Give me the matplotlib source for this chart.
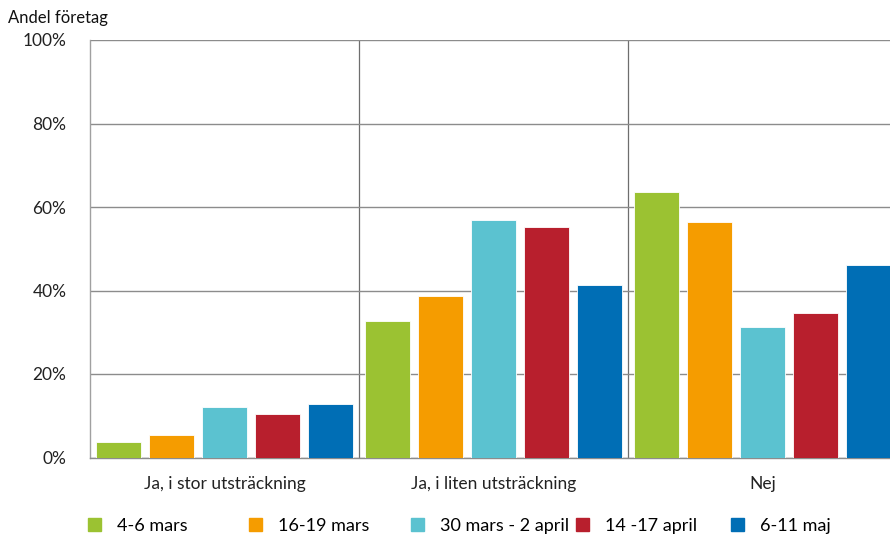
import matplotlib
matplotlib.use("Agg")
import matplotlib.pyplot as plt
from matplotlib.patches import Patch
import numpy as np

plt.rcParams['font.family'] = ['Lato', 'DejaVu Sans']

categories = ["Ja, i stor utsträckning", "Ja, i liten utsträckning", "Nej"]
series_names = ["4-6 mars", "16-19 mars", "30 mars - 2 april", "14 -17 april", "6-11 maj"]
v_4_6_mars = [3.8, 32.8, 63.6]
v_16_19_mars = [5.3, 38.7, 56.3]
v_30mars_2april = [12.1, 57.0, 31.2]
v_14_17_april = [10.3, 55.2, 34.6]
v_6_11_maj = [12.8, 41.3, 46.1]
series_values = [v_4_6_mars, v_16_19_mars, v_30mars_2april, v_14_17_april, v_6_11_maj]
colors = ["#9BC232", "#F59C00", "#5BC2D0", "#B81F2D", "#006EB5"]
yticks = [0, 20, 40, 60, 80, 100]
ytick_labels = ["0%", "20%", "40%", "60%", "80%", "100%"]

W, H = 890, 536
fig = plt.figure(figsize=(W / 100, H / 100), dpi=100)
left = 90 / W
right = 897 / W
bottom = 1 - 457.5 / H
top = 1 - 40 / H
ax = fig.add_axes([left, bottom, right - left, top - bottom])

x = np.arange(len(categories))
pitch = 0.197
width = 0.164
for i, (vals, col) in enumerate(zip(series_values, colors)):
    ax.bar(x + (i - 2) * pitch, vals, width=width, color=col,
           edgecolor="white", linewidth=0.6, zorder=3)

ax.set_xlim(-0.5, 2.5)
ax.set_ylim(0, 100)
ax.set_yticks(yticks)
ax.set_yticklabels(ytick_labels, fontsize=12.5, color="#222222")
ax.set_xticks(x)
ax.set_xticklabels(categories, fontsize=12.5, color="#222222")
ax.tick_params(axis='both', length=0)
ax.tick_params(axis='x', pad=13)
ax.tick_params(axis='y', pad=17)

ax.yaxis.grid(True, color="#8C8C8C", linewidth=1.0, zorder=0)
for b in [0.5, 1.5]:
    ax.axvline(b, color="#6E6E6E", linewidth=0.9, zorder=1)
for s in ["top", "right"]:
    ax.spines[s].set_visible(False)
ax.spines["left"].set_color("#A0A0A0")
ax.spines["bottom"].set_color("#8C8C8C")
ax.spines["left"].set_linewidth(1.0)
ax.spines["bottom"].set_linewidth(1.0)

fig.text(8 / W, 1 - 18 / H, "Andel företag", fontsize=12, color="#111111",
         ha="left", va="center")

legend_x = [88, 249, 411, 576, 731]
for name, col, lx in zip(series_names, colors, legend_x):
    fig.legend(handles=[Patch(facecolor=col, edgecolor=col)], labels=[name],
               loc="center left", bbox_to_anchor=(lx / W, 1 - 526 / H),
               frameon=False, fontsize=13, handlelength=0.7, handleheight=0.7,
               handletextpad=0.9, borderaxespad=0, borderpad=0)

fig.savefig("out.png", dpi=100)
